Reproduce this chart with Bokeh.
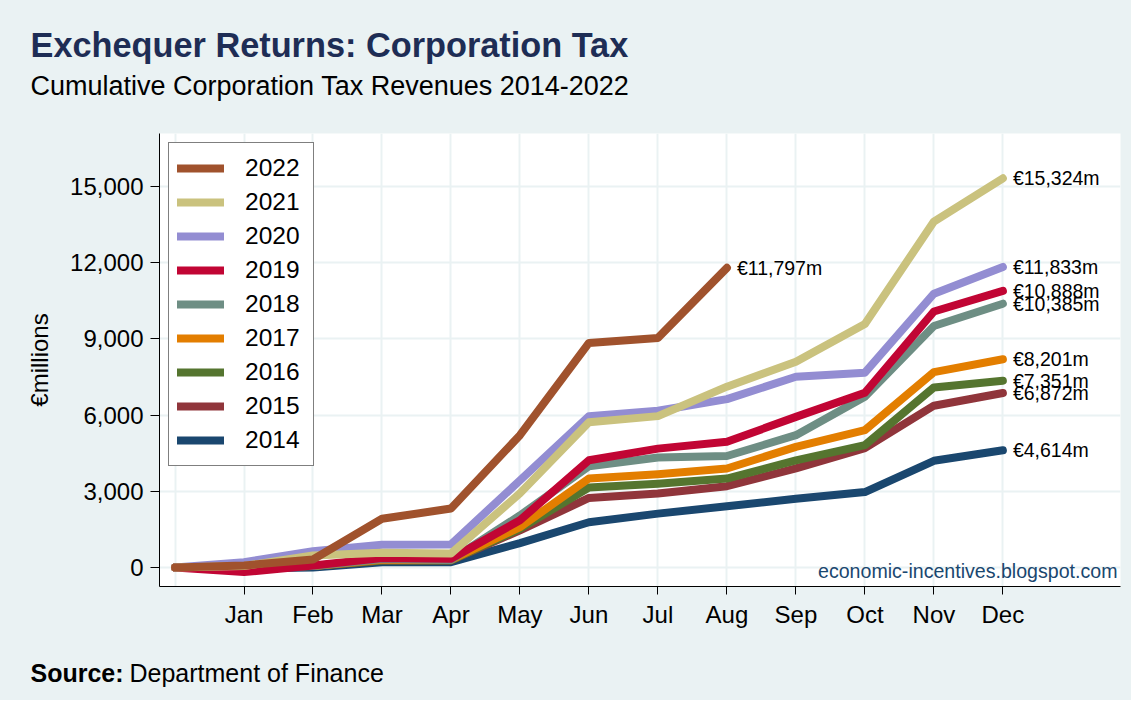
from bokeh.plotting import figure
from bokeh.layouts import column
from bokeh.models import (ColumnDataSource, Range1d, FixedTicker, NumeralTickFormatter,
                          Legend, LegendItem, Label)
from bokeh.core.properties import value
from bokeh.embed import file_html
from bokeh.resources import INLINE

FONT = "Liberation Sans"
BG = "#EAF2F3"
WIDTH = 1131

# Data (cumulative corporation tax, EUR millions; position 0 = start of year)
months = ["Jan", "Feb", "Mar", "Apr", "May", "Jun",
          "Jul", "Aug", "Sep", "Oct", "Nov", "Dec"]
years = ["2014", "2015", "2016", "2017", "2018", "2019", "2020", "2021", "2022"]

rev_2014 = [0, -40, 0, 210, 210, 960, 1780, 2120, 2410, 2710, 2970, 4200, 4614]
rev_2015 = [0, 20, 60, 280, 280, 1460, 2740, 2910, 3200, 3900, 4700, 6370, 6872]
rev_2016 = [0, 20, 60, 280, 280, 1520, 3150, 3300, 3500, 4220, 4820, 7090, 7351]
rev_2017 = [0, 20, 60, 300, 300, 1590, 3500, 3670, 3900, 4750, 5410, 7690, 8201]
rev_2018 = [0, 0, 60, 330, 300, 2050, 3990, 4330, 4390, 5210, 6720, 9510, 10385]
rev_2019 = [0, -180, 80, 370, 340, 1860, 4220, 4680, 4950, 5930, 6880, 10080, 10888]
rev_2020 = [0, 210, 640, 895, 910, 3430, 5960, 6170, 6630, 7510, 7670, 10780, 11833]
rev_2021 = [0, 60, 470, 580, 550, 2920, 5720, 5960, 7120, 8100, 9590, 13620, 15324]
rev_2022 = [0, 80, 315, 1920, 2320, 5210, 8840, 9040, 11797]

series = [rev_2014, rev_2015, rev_2016, rev_2017, rev_2018,
          rev_2019, rev_2020, rev_2021, rev_2022]
colors = ["#1A476F", "#90353B", "#55752F", "#E37E00", "#6E8E84",
          "#C10534", "#938DD2", "#CAC27E", "#A0522D"]

y_ticks = [0, 3000, 6000, 9000, 12000, 15000]


def text_strip(height, y_top):
    """Blank figure whose data coordinates are page pixels (y down)."""
    f = figure(
        width=WIDTH, height=height,
        x_range=Range1d(0, WIDTH), y_range=Range1d(y_top + height, y_top),
        x_axis_location=None, y_axis_location=None,
        output_backend="svg", toolbar_location=None, min_border=0,
    )
    f.frame_align = False
    f.background_fill_color = BG
    f.border_fill_color = BG
    f.outline_line_color = None
    f.xgrid.visible = False
    f.ygrid.visible = False
    return f


# Header: title and subtitle
# --------------------------
head = text_strip(133, 0)
head.add_layout(Label(
    x=30, y=44, text="Exchequer Returns: Corporation Tax",
    text_font=FONT, text_font_size="34.3px", text_font_style="bold",
    text_color="#1E2D55", text_baseline="middle",
))
head.add_layout(Label(
    x=30, y=85.5, text="Cumulative Corporation Tax Revenues 2014-2022",
    text_font=FONT, text_font_size="27px", text_color="black",
    text_baseline="middle",
))

# Main chart
# ----------
p = figure(
    width=WIDTH,
    height=507,
    x_range=Range1d(-0.225, 13.705),
    y_range=Range1d(-748, 17087),
    output_backend="svg",
    toolbar_location=None,
    min_border_left=159,
    min_border_right=11,
    min_border_top=0,
    min_border_bottom=54,
)
p.frame_align = False
p.background_fill_color = "white"
p.border_fill_color = BG
p.outline_line_color = None

# Axes
p.xaxis.ticker = FixedTicker(ticks=list(range(1, 13)))
p.xaxis.major_label_overrides = {i + 1: m for i, m in enumerate(months)}
p.yaxis.ticker = FixedTicker(ticks=y_ticks)
p.yaxis.formatter = NumeralTickFormatter(format="0,0")
for ax in (p.xaxis, p.yaxis):
    ax.axis_line_color = "black"
    ax.major_tick_line_color = "black"
    ax.minor_tick_line_color = None
    ax.major_tick_in = 0
    ax.major_label_text_font = FONT
    ax.major_label_text_font_size = "24px"
    ax.major_label_text_color = "black"
p.xaxis.major_tick_out = 8
p.yaxis.major_tick_out = 9
p.xaxis.major_label_standoff = 6
p.yaxis.major_label_standoff = 7

p.yaxis.axis_label = "€millions"
p.yaxis.axis_label_text_font = FONT
p.yaxis.axis_label_text_font_size = "24px"
p.yaxis.axis_label_text_font_style = "normal"
p.yaxis.axis_label_text_color = "black"
p.yaxis.axis_label_standoff = 14

# Grid
p.xgrid.ticker = FixedTicker(ticks=list(range(0, 13)))
p.xgrid.grid_line_color = BG
p.xgrid.grid_line_width = 2
p.ygrid.grid_line_color = BG
p.ygrid.grid_line_width = 2

# Lines, oldest first so that newer years are drawn on top
renderers = {}
for year, vals, col in zip(years, series, colors):
    src = ColumnDataSource(data={"x": list(range(len(vals))), "y": vals})
    renderers[year] = p.line(
        x="x", y="y", source=src, color=col, line_width=8,
        line_cap="round", line_join="round",
    )

# End-of-series labels
end_source = ColumnDataSource(data={
    "x": [len(v) - 1 for v in series],
    "y": [v[-1] for v in series],
    "text": ["€{:,}m".format(v[-1]) for v in series],
})
p.text(
    x="x", y="y", text="text", source=end_source,
    x_offset=10, text_baseline="middle", text_align="left",
    text_font=value(FONT), text_font_size="19.5px", text_color="black",
)

# Legend, newest first
legend = Legend(
    items=[LegendItem(label=y, renderers=[renderers[y]]) for y in reversed(years)],
    location="top_left",
    margin=9,
    padding=8,
    spacing=0,
    glyph_width=47,
    glyph_height=34,
    label_height=34,
    label_width=60,
    label_standoff=21,
    label_text_font=FONT,
    label_text_font_size="24.5px",
    label_text_color="black",
    label_text_baseline="middle",
    border_line_color="black",
    border_line_width=1,
    background_fill_color="white",
    background_fill_alpha=1.0,
)
p.add_layout(legend)

# Watermark inside the plot area (screen units from the frame's bottom-left)
p.add_layout(Label(
    x=958, y=16, x_units="screen", y_units="screen",
    text="economic-incentives.blogspot.com",
    text_font=FONT, text_font_size="19.6px", text_color="#1A476F",
    text_align="right", text_baseline="middle",
))

# Footer: source note
# -------------------
foot = text_strip(60, 640)
foot.add_layout(Label(
    x=30, y=672, text="Source:",
    text_font=FONT, text_font_size="25px", text_font_style="bold",
    text_color="black", text_baseline="middle",
))
foot.add_layout(Label(
    x=129, y=672, text="Department of Finance",
    text_font=FONT, text_font_size="25px", text_color="black",
    text_baseline="middle",
))

layout = column(head, p, foot, spacing=0)
layout.background = BG

open("out.html", "w").write(file_html(layout, INLINE))
